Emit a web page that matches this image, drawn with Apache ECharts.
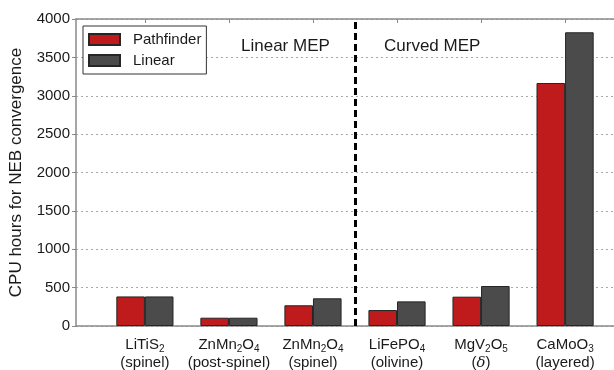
<!DOCTYPE html>
<html>
<head>
<meta charset="utf-8">
<script src="https://cdn.jsdelivr.net/npm/echarts@6/dist/echarts.min.js"></script>
<style>
  html, body { margin: 0; padding: 0; background: #fff; }
  #chart { width: 614px; height: 370px; }
</style>
</head>
<body>
<div id="chart"></div>
<script>
// Materials (formula + structure) and CPU hours for NEB convergence
const materials = ['LiTiS2', 'ZnMn2O4', 'ZnMn2O4', 'LiFePO4', 'MgV2O5', 'CaMoO3'];
const structures = ['(spinel)', '(post-spinel)', '(spinel)', '(olivine)', '(δ)', '(layered)'];
const pathfinderHours = [385, 108, 270, 208, 382, 3166];
const linearHours = [385, 108, 361, 321, 521, 3827];
const yTicks = [0, 500, 1000, 1500, 2000, 2500, 3000, 3500, 4000];
const regionLabels = ['Linear MEP', 'Curved MEP'];

const RED = '#bf1a1c';
const GRAY = '#4b4b4b';
const AXIS = '#8a8a8a';
const TEXT = '#1a1a1a';
const HALF = 0.17; // half of a bar's width in category units

const positions = materials.map((_, i) => i);

// Turn digits into subscripts, and Greek letters into italics
function formula(s) {
  return s.replace(/(\d+)/g, '{sub|$1}');
}
function structure(s) {
  return s.replace(/δ/g, '{it|δ}');
}

const chart = echarts.init(document.getElementById('chart'), null, { renderer: 'canvas' });

const xCommon = {
  type: 'value',
  min: -0.82,
  max: 5.82,
  splitLine: { show: false },
  axisLine: { show: true, lineStyle: { color: AXIS, width: 1.5 } }
};

chart.setOption({
  animation: false,
  textStyle: { fontFamily: 'Liberation Sans, Arial, sans-serif' },
  grid: { left: 76, top: 19, height: 307, width: 558, outerBoundsMode: 'none', containLabel: false },
  legend: {
    orient: 'vertical',
    left: 83,
    top: 26,
    padding: [6, 5, 6, 5],
    itemGap: 6,
    itemWidth: 31,
    itemHeight: 11,
    icon: 'rect',
    borderColor: '#333',
    borderWidth: 1,
    backgroundColor: '#fff',
    textStyle: { fontSize: 15, color: TEXT, padding: [0, 0, 0, 8] },
    data: ['Pathfinder', 'Linear']
  },
  xAxis: [
    Object.assign({}, xCommon, {
      position: 'bottom',
      axisTick: { show: false },
      axisLabel: {
        customValues: positions,
        margin: 10,
        color: TEXT,
        fontSize: 15,
        lineHeight: 18,
        formatter: v => {
          const i = Math.round(v);
          return formula(materials[i]) + '\n' + structure(structures[i]);
        },
        rich: {
          sub: { fontSize: 10, lineHeight: 10, verticalAlign: 'bottom', color: TEXT },
          it: { fontSize: 15, fontStyle: 'italic', color: TEXT, fontFamily: 'DejaVu Serif' }
        }
      }
    }),
    Object.assign({}, xCommon, {
      position: 'top',
      axisLabel: { show: false },
      axisTick: { show: true, inside: true, length: 4, customValues: positions, lineStyle: { color: AXIS } }
    })
  ],
  yAxis: {
    type: 'value',
    min: 0,
    max: 4000,
    interval: 500,
    name: 'CPU hours for NEB convergence',
    nameLocation: 'middle',
    nameGap: 51,
    nameTextStyle: { fontSize: 17, color: TEXT },
    axisLine: { show: true, onZero: false, lineStyle: { color: AXIS, width: 1.5 } },
    axisTick: { show: true, length: 4, lineStyle: { color: AXIS } },
    axisLabel: {
      fontSize: 15, color: TEXT, margin: 6,
      formatter: v => (yTicks.indexOf(v) >= 0 ? String(v) : '')
    },
    splitLine: { show: true, lineStyle: { color: '#a8a8a8', type: [2, 3], width: 1 } }
  },
  graphic: [
    { type: 'text', left: 241, top: 38, style: { text: regionLabels[0], fontSize: 17, fill: TEXT, fontFamily: 'Liberation Sans' } },
    { type: 'text', left: 384, top: 38, style: { text: regionLabels[1], fontSize: 17, fill: TEXT, fontFamily: 'Liberation Sans' } }
  ],
  series: [
    {
      name: 'Pathfinder',
      type: 'bar',
      xAxisIndex: 0,
      barWidth: 28.6,
      barGap: '-100%',
      itemStyle: { color: RED, borderColor: '#262626', borderWidth: 1 },
      data: pathfinderHours.map((v, i) => [i - HALF, v]),
      markLine: {
        silent: true,
        symbol: 'none',
        label: { show: false },
        lineStyle: { color: '#000', width: 3, type: [7, 4] },
        data: [{ xAxis: 2.5 }]
      }
    },
    {
      name: 'Linear',
      type: 'bar',
      xAxisIndex: 0,
      barWidth: 28.6,
      barGap: '-100%',
      itemStyle: { color: GRAY, borderColor: '#262626', borderWidth: 1 },
      data: linearHours.map((v, i) => [i + HALF, v])
    }
  ]
});
</script>
</body>
</html>
